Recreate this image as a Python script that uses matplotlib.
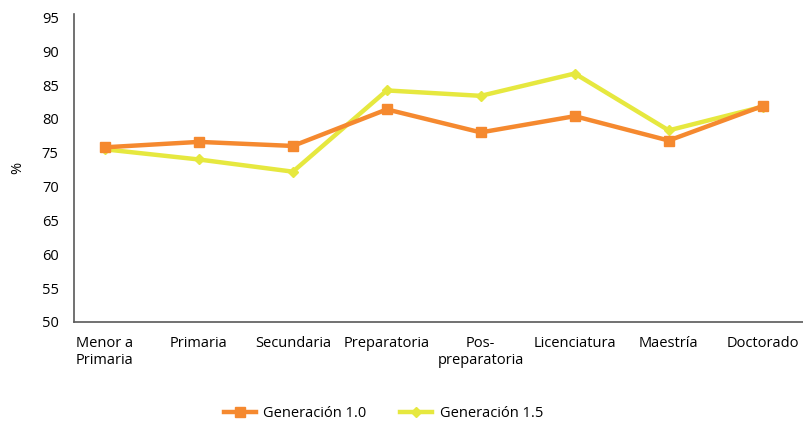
import matplotlib.pyplot as plt

# niveles educativos (eje x)
niveles = ["Menor a\nPrimaria", "Primaria", "Secundaria", "Preparatoria",
           "Pos-\npreparatoria", "Licenciatura", "Maestría", "Doctorado"]
gen_10 = [75.8, 76.6, 76.0, 81.4, 78.0, 80.4, 76.8, 81.9]
gen_15 = [75.5, 74.0, 72.2, 84.2, 83.4, 86.7, 78.3, 81.8]
y_ticks = [50, 55, 60, 65, 70, 75, 80, 85, 90, 95]

plt.rcParams['font.family'] = ['Open Sans', 'DejaVu Sans']

fig = plt.figure(figsize=(8.04, 4.22), dpi=100)
ax = fig.add_axes([0.092, 0.237, 0.908, 0.73])

x = list(range(len(niveles)))
ax.plot(x, gen_10, color='#F5892F', lw=3.2, marker='s', ms=6.5,
        label='Generación 1.0', zorder=3)
ax.plot(x, gen_15, color='#E6E83F', lw=3.2, marker='D', ms=5,
        label='Generación 1.5', zorder=2)

ax.set_xlim(-0.33, 7.44)
ax.set_ylim(50, 95.5)
ax.set_yticks(y_ticks)
ax.set_xticks(x)
ax.set_xticklabels(niveles, fontsize=10.5)
ax.tick_params(axis='y', labelsize=10.5, length=0, pad=11)
ax.tick_params(axis='x', length=0, pad=10)
ax.set_ylabel('%', fontsize=10.5, labelpad=12)

for s in ['top', 'right']:
    ax.spines[s].set_visible(False)
for s in ['left', 'bottom']:
    ax.spines[s].set_color('#595959')
    ax.spines[s].set_linewidth(1.2)

fig.legend(loc='center', bbox_to_anchor=(0.477, 0.02), ncol=2, frameon=False,
           fontsize=10.5, handlelength=2.2, handletextpad=0.5,
           columnspacing=2.3)

fig.savefig('out.png', dpi=100)
